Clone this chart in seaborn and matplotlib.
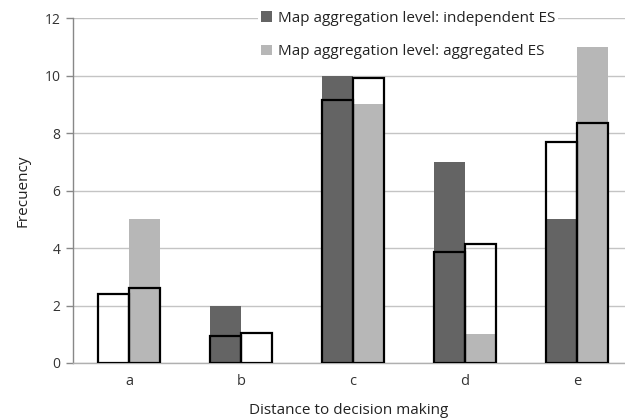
import numpy as np
import pandas as pd
import matplotlib
matplotlib.use("Agg")
import matplotlib.pyplot as plt
from matplotlib.patches import Patch
import seaborn as sns

categories = ["a", "b", "c", "d", "e"]
series_names = ["Map aggregation level: independent ES", "Map aggregation level: aggregated ES"]
observed_independent = [0, 2, 10, 7, 5]
observed_aggregated = [5, 0, 9, 1, 11]
expected_independent = [2.4, 0.95, 9.15, 3.85, 7.7]
expected_aggregated = [2.6, 1.05, 9.9, 4.15, 8.35]
y_ticks = [0, 2, 4, 6, 8, 10, 12]

obs = pd.DataFrame({
    "cat": categories * 2,
    "series": [series_names[0]] * 5 + [series_names[1]] * 5,
    "value": observed_independent + observed_aggregated,
})
exp = pd.DataFrame({
    "cat": categories * 2,
    "series": [series_names[0]] * 5 + [series_names[1]] * 5,
    "value": expected_independent + expected_aggregated,
})

sns.set_theme(style="white")
plt.rcParams['font.family'] = ['Open Sans', 'DejaVu Sans']

fig = plt.figure(figsize=(6.25, 4.2), dpi=100)
ax = fig.add_axes([73/625, 1 - 363/420, 1 - 73/625, (363 - 18) / 420])

colors = ["#646464", "#b7b7b7"]
sns.barplot(data=obs, x="cat", y="value", hue="series", hue_order=series_names,
            palette=colors, width=0.56, gap=0, saturation=1, linewidth=0,
            legend=False, ax=ax, zorder=2)
sns.barplot(data=exp, x="cat", y="value", hue="series", hue_order=series_names,
            palette=["black", "black"], width=0.56, gap=0, fill=False,
            linewidth=1.6, legend=False, ax=ax, zorder=3)

ax.set_ylim(0, 12)
ax.set_xlim(-0.5, 4.43)
ax.set_yticks(y_ticks)
ax.set_yticklabels([str(t) for t in y_ticks], fontsize=10, color="#333333")
ax.tick_params(axis="x", length=0, labelsize=10.5, colors="#333333", pad=8)
ax.tick_params(axis="y", left=True, length=5, width=1, color="#888888", direction="out", pad=4)
ax.yaxis.grid(True, color="#c4c4c4", linewidth=1)
ax.set_axisbelow(True)
for s in ["top", "right"]:
    ax.spines[s].set_visible(False)
ax.spines["left"].set_color("#888888")
ax.spines["bottom"].set_color("#b0b0b0")
ax.spines["left"].set_linewidth(1)
ax.spines["bottom"].set_linewidth(1)

ax.set_xlabel("Distance to decision making", fontsize=11, color="#222222", labelpad=10)
ax.set_ylabel("Frecuency", fontsize=11, color="#222222", labelpad=10)

handles = [Patch(facecolor=c, edgecolor="none") for c in colors]
leg = fig.legend(handles, series_names, loc="upper left",
                 bbox_to_anchor=(258/625, 1 - 8/420), frameon=True,
                 facecolor="white", edgecolor="none", framealpha=1,
                 fontsize=11, handlelength=0.7, handleheight=0.7,
                 handletextpad=0.4, labelspacing=1.2, borderpad=0.2,
                 borderaxespad=0)
for t in leg.get_texts():
    t.set_color("#222222")

fig.savefig("out.png", dpi=100)
